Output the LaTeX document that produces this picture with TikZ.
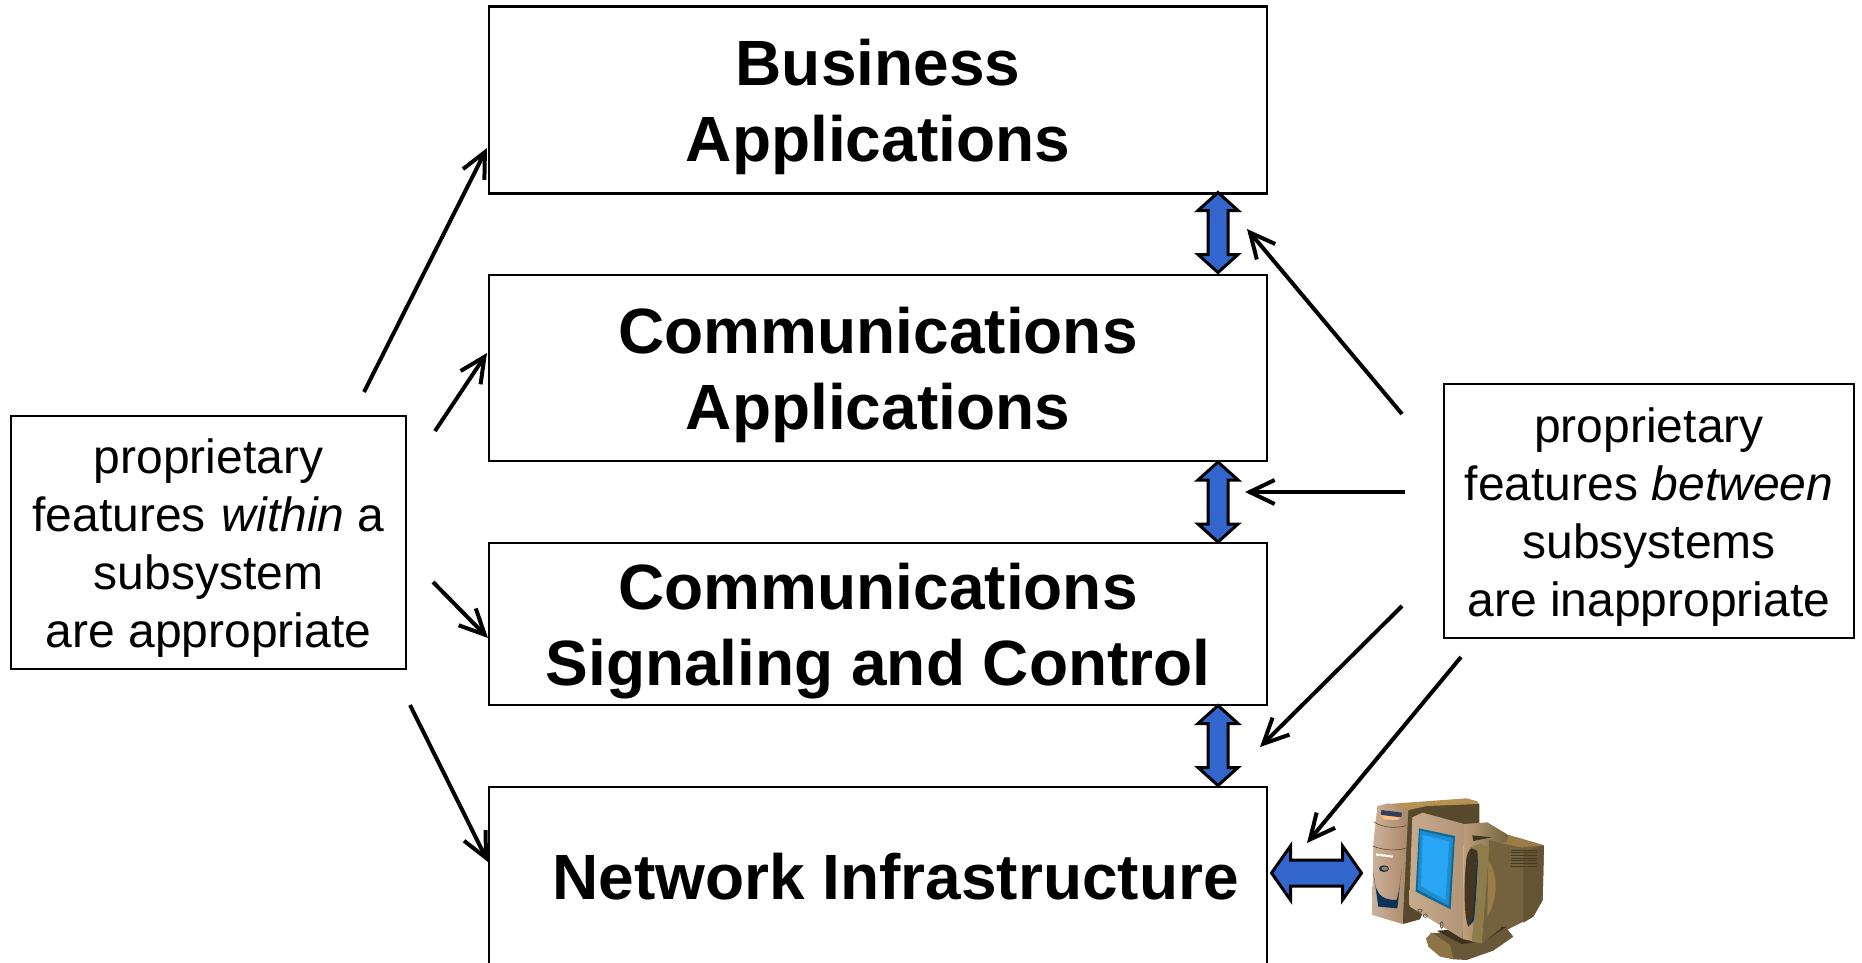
\documentclass[tikz,border=0pt]{standalone}
\usepackage{fontspec}
\setmainfont{Liberation Sans}
\usetikzlibrary{arrows.meta}
\definecolor{arrowblue}{HTML}{3366CC}
\definecolor{pcdark}{RGB}{88,72,44}
\definecolor{pctan}{RGB}{181,146,84}
\definecolor{pcrear}{RGB}{116,98,62}
\definecolor{pcrear2}{RGB}{100,84,52}
\definecolor{pcolive}{RGB}{142,124,76}
\definecolor{pcnavy}{RGB}{12,50,88}
\definecolor{pcscreen}{RGB}{40,165,245}
\definecolor{pcscreenedge}{RGB}{15,105,150}
\definecolor{pcslot}{RGB}{52,62,92}
\tikzset{
  x=1pt,y=-1pt,
  layerbox/.style={draw=black,line width=2.8pt,fill=white,minimum width=778pt,align=center,inner sep=0pt,
     font=\fontsize{64pt}{76pt}\selectfont\bfseries},
  notebox/.style={draw=black,line width=2.8pt,fill=white,align=center,inner sep=0pt,
     font=\fontsize{48pt}{58pt}\selectfont},
  pointer/.style={draw=black,line width=4pt,-{Straight Barb[length=25pt,width=24pt,line width=4pt]}},
  blockarrow/.style={draw=black,line width=3pt,fill=arrowblue,miter limit=10},
}
\newcommand{\bumpT}{\rule{0pt}{60.5pt}}
\newcommand{\bumpN}{\rule{0pt}{46.5pt}}
\begin{document}
\begin{tikzpicture}
\useasboundingbox (0,0) rectangle (1862,963);
\node[layerbox,minimum height=186.5pt] (biz) at (878,100) {\bumpT Business\\Applications};
\node[layerbox,minimum height=186pt] (capp) at (878,368) {\bumpT Communications\\Applications};
\node[layerbox,minimum height=162pt] (csig) at (878,624) {\bumpT Communications\\Signaling and Control};
\node[layerbox,minimum height=177pt] (net) at (878,875.5) {\hspace*{35pt}\rule{0pt}{49pt}Network Infrastructure};
\node[notebox,minimum width=395pt,minimum height=253pt] (within) at (208.5,542.5)
  {\bumpN proprietary\\features\hspace{16pt}\textit{within} a\\subsystem\\are appropriate};
\node[notebox,minimum width=410pt,minimum height=254pt] (between) at (1649,511)
  {\bumpN proprietary\\features \textit{between}\\subsystems\\are inappropriate};
% block arrows
\foreach \nm/\cy in {dab/232.5,dbc/502,dcd/745.5}{
  \coordinate (\nm) at (1218,\cy);
  \draw[blockarrow] (\nm) ++(0,-40) -- ++(20,18) -- ++(-10,0) -- ++(0,44) -- ++(10,0) -- ++(-20,18) -- ++(-20,-18) -- ++(10,0) -- ++(0,-44) -- ++(-10,0) -- cycle;
}
\coordinate (dnc) at (1316.5,873);
\draw[blockarrow] (dnc) ++(-45,0) -- ++(19,-27) -- ++(0,14) -- ++(52,0) -- ++(0,-14) -- ++(19,27) -- ++(-19,27) -- ++(0,-14) -- ++(-52,0) -- ++(0,14) -- cycle;
% free ends
\coordinate (w1) at (364,392); \coordinate (w2) at (435,431);
\coordinate (w3) at (433,582); \coordinate (w4) at (410,705);
\coordinate (wt1) at (487,148); \coordinate (wt2) at (487,353);
\coordinate (wt3) at (488,638); \coordinate (wt4) at (488,862);
\coordinate (b1) at (1402,414); \coordinate (b2) at (1405,492);
\coordinate (b3) at (1402,606); \coordinate (b4) at (1461,657);
\coordinate (bt1) at (1247,229); \coordinate (bt2) at (1245,492);
\coordinate (bt3) at (1260,747); \coordinate (bt4) at (1307,843);
\draw[pointer] (w1) -- (wt1);
\draw[pointer] (w2) -- (wt2);
\draw[pointer] (w3) -- (wt3);
\draw[pointer] (w4) -- (wt4);
\draw[pointer] (b1) -- (bt1);
\draw[pointer] (b2) -- (bt2);
\draw[pointer] (b3) -- (bt3);
\draw[pointer] (b4) -- (bt4);
% computer, in units of one third of a pixel
\begin{scope}[shift={(1240,760)},x=0.3333pt,y=-0.3333pt]
  % tower rear
  \fill[pcdark] (450,135) -- (700,122) -- (718,132) -- (718,200) -- (620,300) -- (540,478) -- (490,492) -- cycle;
  \fill[pctan] (445,132) -- (680,115) -- (712,124) -- (716,132) -- (560,138) -- (505,150) -- cycle;
  % tower front
  \shade[left color={rgb,255:red,205;green,178;blue,155},middle color={rgb,255:red,236;green,214;blue,196},right color={rgb,255:red,170;green,135;blue,105}] (412,138) -- (445,130) -- (505,150) -- (500,250) -- (488,492) -- (397,465) -- (400,250) -- cycle;
  \fill[pcslot] (424,150) -- (486,158) -- (484,172) -- (423,165) -- cycle;
  \fill[orange!50!white] (420,165) -- (483,173) -- (470,180) -- (432,178) -- cycle;
  \draw[line width=0.6pt,pcdark] (401,185) .. controls (430,205) and (470,205) .. (498,197);
  \draw[line width=0.6pt,pcdark] (398,258) .. controls (430,272) and (470,272) .. (497,265);
  \fill[white!90!pctan] (408,280) -- (460,287) -- (458,293) -- (408,287) -- cycle;
  \fill[pcnavy] (432,326) ellipse (15 and 10);
  \fill[pctan!90!black] (434,326) ellipse (10 and 6);
  \fill[pcnavy] (400,335) .. controls (405,400) and (420,420) .. (470,420) .. controls (478,390) and (482,360) .. (485,325) -- (472,445) -- (415,440) -- cycle;
  % monitor rear
  \fill[pcrear] (775,240) -- (805,225) -- (912,256) -- (908,420) -- (880,470) -- (800,510) -- (720,525) -- (700,300) -- cycle;
  \fill[pcrear2] (850,275) -- (912,256) -- (908,420) -- (880,470) -- (850,488) -- cycle;
  \fill[pctan!85!black] (785,250) -- (805,225) -- (912,256) -- (845,262) -- cycle;
  \foreach \yy in {270,278,...,322}{\draw[line width=0.8pt,pcdark!80!black] (812,\yy) -- (892,\yy);}
  % neck and foot
  \fill[pcrear!90!black] (570,520) -- (800,505) -- (820,530) -- (760,572) -- (680,600) -- (640,598) -- (600,575) -- cycle;
  \fill[pcrear!60!pctan] (558,535) -- (575,518) -- (630,555) -- (640,598) -- (600,590) -- (565,560) -- cycle;
  \fill[pcdark!70!black] (590,512) -- (800,500) -- (730,545) -- (665,552) -- cycle;
  % monitor side
  \shade[left color={rgb,255:red,190;green,160;blue,125},right color=pcrear] (672,192) -- (742,187) -- (805,225) -- (800,245) -- (783,250) -- (783,500) -- (725,550) -- (668,537) -- cycle;
  \fill[pcrear] (748,240) -- (783,250) -- (783,505) -- (725,550) -- cycle;
  \fill[pctan!85!black] (745,300) .. controls (778,350) and (772,420) .. (742,470) -- cycle;
  \fill[pcdark!75!black] (697,226) -- (755,232) -- (700,243) -- cycle;
  % monitor front
  \shade[left color={rgb,255:red,200;green,170;blue,140},middle color={rgb,255:red,232;green,214;blue,192},right color={rgb,255:red,178;green,148;blue,118}] (517,172) -- (548,158) -- (672,192) -- (668,537) -- (510,440) -- (508,425) -- cycle;
  \fill[pcscreenedge] (537,205) -- (645,228) -- (632,448) -- (527,395) -- cycle;
  \fill[pcscreen!60!pcscreenedge] (541,212) -- (639,234) -- (626,437) -- (533,389) -- cycle;
  \fill[pcscreen] (548,225) -- (628,244) -- (616,420) -- (543,378) -- cycle;
  \draw[line width=0.7pt,black!70] (540,452) ellipse (6 and 5) (556,467) ellipse (6 and 5);
  \draw[line width=0.7pt,black!70] (605,495) ellipse (4 and 10);
  % recess and strip in the monitor side
  \fill[pcdark!75!black] (680,290) .. controls (688,262) and (700,255) .. (712,270) -- (702,470) -- (685,500) .. controls (670,470) and (672,350) .. (680,290) -- cycle;
  \fill[pcnavy] (712,272) -- (716,275) -- (704,480) -- (685,500) -- (700,470) -- cycle;
  \fill[pcolive] (690,262) -- (722,250) -- (748,265) -- (725,550) -- (695,545) .. controls (705,450) and (718,350) .. (712,272) -- cycle;
\end{scope}
\end{tikzpicture}
\end{document}
